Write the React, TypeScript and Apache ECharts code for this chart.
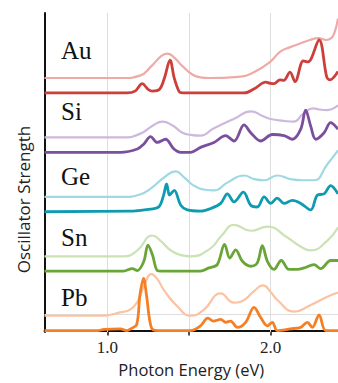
import React, { useEffect, useRef } from "react";
import * as echarts from "echarts";

type Pt = [number, number];

const ELEMENTS = ["Au", "Si", "Ge", "Sn", "Pb"];
const OFFSETS = [4, 3, 2, 1, 0];
const PALE_SHIFT = 0.25;
const X_TICKS = [1.0, 1.5, 2.0];
const X_LABELS = [1.0, 2.0];

const AU_PALE: Pt[] = [[0.616,0],[1.1,0],[1.2,0.04],[1.27,0.2],[1.33,0.37],[1.367,0.41],[1.4,0.37],[1.46,0.2],[1.52,0.06],[1.57,0.01],[1.62,0],[1.8,0.02],[1.9,0.1],[2.0,0.28],[2.057,0.44],[2.12,0.52],[2.18,0.58],[2.24,0.64],[2.29,0.67],[2.34,0.64],[2.37,0.67],[2.39,0.76],[2.412,1.0]];
const AU_SHARP: Pt[] = [[0.616,0],[1.12,0],[1.17,0.03],[1.214,0.155],[1.25,0.06],[1.276,0.03],[1.32,0.06],[1.35,0.25],[1.384,0.55],[1.41,0.25],[1.44,0.02],[1.46,0],[1.84,0],[1.9,0.07],[1.97,0.18],[2.0,0.16],[2.02,0.155],[2.057,0.22],[2.08,0.21],[2.118,0.35],[2.149,0.19],[2.2,0.54],[2.228,0.52],[2.296,0.89],[2.343,0.27],[2.363,0.22],[2.412,0.36]];

const SI_PALE: Pt[] = [[0.616,0],[1.1,0],[1.2,0.06],[1.28,0.2],[1.337,0.265],[1.4,0.2],[1.46,0.08],[1.51,0.044],[1.57,0.03],[1.65,0.15],[1.78,0.32],[1.88,0.44],[1.95,0.36],[2.0,0.31],[2.08,0.28],[2.14,0.265],[2.2,0.4],[2.26,0.49],[2.3,0.47],[2.34,0.46],[2.412,0.54]];
const SI_SHARP: Pt[] = [[0.616,0],[1.08,0],[1.184,0.055],[1.224,0.14],[1.265,0.265],[1.306,0.166],[1.357,0.22],[1.408,0.055],[1.449,0],[1.51,0],[1.571,0.083],[1.653,0.166],[1.724,0.28],[1.776,0.19],[1.837,0.46],[1.878,0.33],[1.939,0.19],[2.01,0.3],[2.082,0.28],[2.133,0.22],[2.184,0.39],[2.214,0.71],[2.245,0.44],[2.276,0.22],[2.327,0.33],[2.367,0.5],[2.412,0.39]];

const GE_PALE: Pt[] = [[0.616,0],[1.1,0],[1.2,0.04],[1.265,0.14],[1.35,0.33],[1.418,0.43],[1.47,0.33],[1.53,0.19],[1.6,0.12],[1.653,0.11],[1.735,0.24],[1.837,0.36],[1.9,0.3],[1.96,0.28],[2.04,0.36],[2.12,0.3],[2.2,0.28],[2.265,0.28],[2.347,0.55],[2.412,0.78]];
const GE_SHARP: Pt[] = [[0.616,0],[1.15,0.01],[1.18,0.017],[1.265,0.044],[1.316,0.083],[1.345,0.28],[1.363,0.47],[1.38,0.28],[1.388,0.3],[1.41,0.36],[1.45,0.11],[1.49,0.03],[1.57,0.01],[1.633,0.055],[1.694,0.14],[1.735,0.3],[1.776,0.166],[1.833,0.33],[1.878,0.11],[1.918,0.08],[1.96,0.25],[2.0,0.14],[2.04,0.23],[2.082,0.14],[2.133,0.19],[2.184,0.14],[2.245,0.03],[2.286,0.28],[2.327,0.3],[2.367,0.44],[2.412,0.3]];

const SN_PALE: Pt[] = [[0.616,0],[1.1,0],[1.184,0.1],[1.276,0.35],[1.33,0.25],[1.388,0.1],[1.45,0.02],[1.51,0],[1.63,0.13],[1.7,0.35],[1.776,0.53],[1.878,0.43],[1.98,0.5],[2.1,0.32],[2.18,0.17],[2.245,0.1],[2.347,0.265],[2.412,0.49]];
const SN_SHARP: Pt[] = [[0.616,0],[1.1,0],[1.153,0.044],[1.184,0.01],[1.224,0.166],[1.249,0.44],[1.276,0.28],[1.306,0.01],[1.33,0],[1.57,0],[1.622,0.055],[1.673,0.11],[1.718,0.45],[1.75,0.22],[1.786,0.36],[1.827,0.166],[1.878,0.083],[1.918,0.14],[1.949,0.43],[1.98,0.166],[2.02,0.03],[2.065,0.18],[2.112,0.03],[2.163,0.03],[2.204,0.055],[2.265,0.11],[2.306,0.044],[2.367,0.18],[2.412,0.18]];

const PB_PALE: Pt[] = [[0.616,0],[0.94,0],[1.061,0.044],[1.163,0.155],[1.224,0.49],[1.27,0.7],[1.306,0.62],[1.347,0.43],[1.43,0.155],[1.51,0],[1.59,0.1],[1.694,0.375],[1.776,0.22],[1.837,0.265],[1.9,0.42],[1.953,0.51],[2.0,0.4],[2.041,0.265],[2.143,0.07],[2.245,0.18],[2.347,0.32],[2.412,0.39]];
const PB_SHARP: Pt[] = [[0.616,0],[0.94,0],[0.98,0.02],[1.08,0.03],[1.12,0],[1.143,0.03],[1.18,0.1],[1.2,0.6],[1.222,0.88],[1.24,0.6],[1.27,0.05],[1.306,0],[1.51,0],[1.57,0.08],[1.616,0.21],[1.65,0.16],[1.694,0.19],[1.724,0.14],[1.755,0.16],[1.796,0.055],[1.847,0.14],[1.898,0.39],[1.939,0.22],[1.98,0.08],[2.01,0.14],[2.041,0],[2.122,0.03],[2.184,0.055],[2.224,0.14],[2.255,0.055],[2.296,0.265],[2.337,0],[2.412,0]];

const PALE = [AU_PALE, SI_PALE, GE_PALE, SN_PALE, PB_PALE];
const SHARP = [AU_SHARP, SI_SHARP, GE_SHARP, SN_SHARP, PB_SHARP];

const DARK_COLORS = ["#cc3f3a", "#7a4f9e", "#0e9bb0", "#6aa537", "#f57f25"];
const LIGHT_COLORS = ["#eeaaa7", "#cdb8de", "#a0d8e3", "#cbe2b5", "#fbc3a2"];
const LABEL_Y = [50, 111, 176.5, 237.5, 297.5];

const SERIF = "'Liberation Serif', 'Times New Roman', serif";
const SANS = "'Open Sans', 'Noto Sans', sans-serif";

export default function App() {
  const ref = useRef<HTMLDivElement>(null);
  useEffect(() => {
    if (!ref.current) return;
    const chart = echarts.init(ref.current, undefined, { renderer: "svg" });
    const series: any[] = [];
    ELEMENTS.forEach((name, i) => {
      series.push({
        name: name + " (broad)",
        type: "line",
        showSymbol: false,
        smooth: 0.5,
        z: 2,
        lineStyle: { color: LIGHT_COLORS[i], width: 2.2 },
        data: PALE[i].map(([e, a]) => [e, OFFSETS[i] + PALE_SHIFT + a]),
        ...(i === 0
          ? {
              markLine: {
                silent: true,
                symbol: "none",
                z: 1,
                label: { show: false },
                lineStyle: { color: "#dddddd", width: 1, type: "solid" },
                data: [
                  ...X_TICKS.map((v) => ({ xAxis: v })),
                  { yAxis: 0.265 },
                ],
              },
            }
          : {}),
      });
      series.push({
        name: name,
        type: "line",
        showSymbol: false,
        smooth: 0.35,
        z: 3,
        lineStyle: { color: DARK_COLORS[i], width: 2.8 },
        data: SHARP[i].map(([e, a]) => [e, OFFSETS[i] + a]),
      });
    });

    chart.setOption({
      animation: false,
      grid: { left: 44.5, right: 0, top: 13, bottom: 46 },
      xAxis: {
        type: "value",
        min: 0.616,
        max: 2.412,
        axisLine: { show: true, lineStyle: { color: "#111", width: 2 } },
        axisTick: {
          show: true,
          customValues: X_TICKS,
          length: 5,
          lineStyle: { color: "#111", width: 1.5 },
        },
        axisLabel: {
          customValues: X_LABELS,
          formatter: (v: number) => v.toFixed(1),
          fontFamily: SERIF,
          fontSize: 17,
          color: "#222",
          margin: 7,
        },
        splitLine: { show: false },
        name: "Photon Energy (eV)",
        nameLocation: "middle",
        nameGap: 28,
        nameTextStyle: { fontFamily: SANS, fontSize: 16.5, color: "#222" },
      },
      yAxis: {
        type: "value",
        min: -0.025,
        max: 5.344,
        axisLine: { show: true, lineStyle: { color: "#111", width: 2 } },
        axisTick: { show: false },
        axisLabel: { show: false },
        splitLine: { show: false },
      },
      graphic: [
        ...ELEMENTS.map((name, i) => ({
          type: "text",
          left: undefined,
          x: 61,
          y: LABEL_Y[i],
          style: {
            text: name,
            font: `25px ${SERIF}`,
            fill: "#111",
            align: "left",
            verticalAlign: "middle",
          },
          z: 10,
        })),
        {
          type: "text",
          x: 23,
          y: 199.5,
          rotation: Math.PI / 2,
          style: {
            text: "Oscillator Strength",
            font: `17px ${SANS}`,
            fill: "#222",
            align: "center",
            verticalAlign: "middle",
          },
        },
      ],
      series,
    });
    return () => chart.dispose();
  }, []);
  return <div ref={ref} style={{ width: 338, height: 383, position: "absolute", left: 0, top: 0 }} />;
}
